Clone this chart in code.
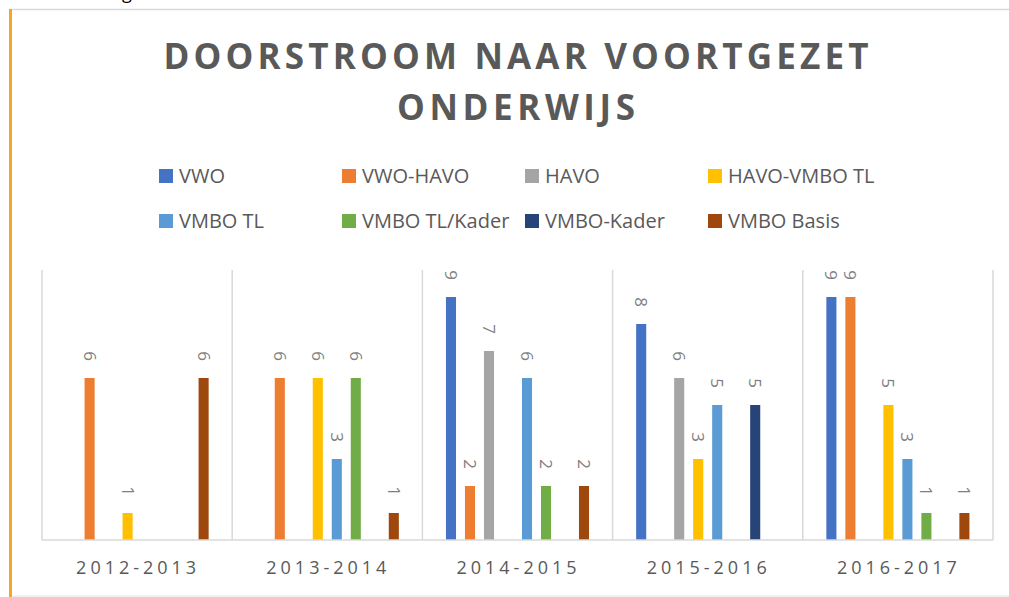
<!DOCTYPE html>
<html>
<head>
<meta charset="utf-8">
<script src="https://cdn.jsdelivr.net/npm/d3@7"></script>
<style>
	body { margin: 0; background: #fff; }
	#doorstroom-chart { width: 1009px; height: 597px; }
	text { font-family: "Open Sans", "Noto Sans", sans-serif; }
</style>
</head>
<body>
<div id="doorstroom-chart"></div>
<script>
const years = ["2012-2013", "2013-2014", "2014-2015", "2015-2016", "2016-2017"]
const seriesNames = ["VWO", "VWO-HAVO", "HAVO", "HAVO-VMBO TL", "VMBO TL", "VMBO TL/Kader", "VMBO-Kader", "VMBO Basis"]
const seriesColors = ["#4472C4", "#ED7D31", "#A5A5A5", "#FFC000", "#5B9BD5", "#70AD47", "#264478", "#9E480E"]

// one array per series, values per school year (null = no bar)
const vwo = [null, null, 9, 8, 9]
const vwoHavo = [6, 6, 2, null, 9]
const havo = [null, null, 7, 6, null]
const havoVmboTl = [1, 6, null, 3, 5]
const vmboTl = [null, 3, 6, 5, 3]
const vmboTlKader = [null, 6, 2, null, 1]
const vmboKader = [null, null, null, 5, null]
const vmboBasis = [6, 1, 2, null, 1]
const seriesValues = [vwo, vwoHavo, havo, havoVmboTl, vmboTl, vmboTlKader, vmboKader, vmboBasis]

const titleLines = ["DOORSTROOM NAAR VOORTGEZET", "ONDERWIJS"]

class DoorstroomChart {
	constructor(containerId) {
		this.containerId = containerId
		this.width = 1009
		this.height = 597
		this.plot = { left: 42, right: 993, top: 270, bottom: 540 }
		this.textColor = "#595959"
		this.gridColor = "#D9D9D9"
	}

	initialize() {
		this.createSvg()
		this.drawFrame()
		this.drawTitle()
		this.drawLegend()
		this.createScales()
		this.drawGrid()
		this.drawBars()
		this.drawAxis()
	}

	createSvg() {
		this.svg = d3
			.select(`#${this.containerId}`)
			.append("svg")
			.attr("width", this.width)
			.attr("height", this.height)
	}

	drawFrame() {
		// descender of the page text above the embedded chart
		this.svg
			.append("text")
			.attr("x", 122)
			.attr("y", -1)
			.style("font-size", "18px")
			.style("fill", "#000")
			.text("g")

		this.svg
			.append("line")
			.attr("x1", 9)
			.attr("x2", this.width)
			.attr("y1", 9.5)
			.attr("y2", 9.5)
			.style("stroke", "#D9D9D9")
			.style("stroke-width", 1.5)

		this.svg
			.append("line")
			.attr("x1", 9)
			.attr("x2", this.width)
			.attr("y1", 596)
			.attr("y2", 596)
			.style("stroke", "#E3E3E3")
			.style("stroke-width", 1)

		this.svg
			.append("line")
			.attr("x1", 10.5)
			.attr("x2", 10.5)
			.attr("y1", 9)
			.attr("y2", this.height)
			.style("stroke", "#F5A623")
			.style("stroke-width", 3)
	}

	drawTitle() {
		const widths = [705, 238]
		this.svg
			.append("g")
			.attr("class", "title")
			.selectAll("text")
			.data(titleLines)
			.join("text")
			.attr("x", 516)
			.attr("y", (d, i) => 69 + i * 51)
			.attr("text-anchor", "middle")
			.attr("textLength", (d, i) => widths[i])
			.attr("lengthAdjust", "spacing")
			.style("font-size", "35px")
			.style("font-weight", "700")
			.style("fill", this.textColor)
			.text((d) => d)
	}

	drawLegend() {
		const legend = this.svg.append("g").attr("class", "legend")
		const rows = legend
			.selectAll("g")
			.data(seriesNames)
			.join("g")
			.attr("transform", (d, i) => `translate(${159 + (i % 4) * 183},${169 + Math.floor(i / 4) * 45})`)

		rows
			.append("rect")
			.attr("width", 14)
			.attr("height", 14)
			.attr("fill", (d, i) => seriesColors[i])

		rows
			.append("text")
			.attr("x", 20)
			.attr("y", 14)
			.style("font-size", "20px")
			.style("fill", this.textColor)
			.text((d) => d)
	}

	createScales() {
		this.x0 = d3
			.scaleBand()
			.domain(years)
			.range([this.plot.left, this.plot.right])

		this.x1 = d3
			.scaleBand()
			.domain(seriesNames)
			.range([0, this.x0.bandwidth()])
			.paddingInner(0.47)
			.paddingOuter(1.24)

		this.y = d3
			.scaleLinear()
			.domain([0, 10])
			.range([this.plot.bottom, this.plot.top])
	}

	drawGrid() {
		const edges = years.map((d) => this.x0(d)).concat([this.plot.right])
		this.svg
			.append("g")
			.attr("class", "grid")
			.selectAll("line")
			.data(edges)
			.join("line")
			.attr("x1", (d) => d)
			.attr("x2", (d) => d)
			.attr("y1", this.plot.top)
			.attr("y2", this.plot.bottom)
			.style("stroke", this.gridColor)
			.style("stroke-width", 1.5)
	}

	drawBars() {
		const points = []
		years.forEach((year, yi) => {
			seriesNames.forEach((name, si) => {
				const v = seriesValues[si][yi]
				if (v !== null) points.push({ year, name, color: seriesColors[si], value: v })
			})
		})

		const bars = this.svg.append("g").attr("class", "bars")
		bars
			.selectAll("rect")
			.data(points)
			.join("rect")
			.attr("x", (d) => this.x0(d.year) + this.x1(d.name))
			.attr("y", (d) => this.y(d.value))
			.attr("width", this.x1.bandwidth())
			.attr("height", (d) => this.y(0) - this.y(d.value))
			.attr("fill", (d) => d.color)

		bars
			.selectAll("text")
			.data(points)
			.join("text")
			.attr("transform", (d) => {
				const cx = this.x0(d.year) + this.x1(d.name) + this.x1.bandwidth() / 2
				return `translate(${cx},${this.y(d.value) - 17}) rotate(90)`
			})
			.attr("text-anchor", "end")
			.attr("dy", "0.35em")
			.style("font-size", "17px")
			.style("fill", "#7F7F7F")
			.text((d) => d.value)
	}

	drawAxis() {
		this.svg
			.append("line")
			.attr("x1", this.plot.left)
			.attr("x2", this.plot.right)
			.attr("y1", this.plot.bottom)
			.attr("y2", this.plot.bottom)
			.style("stroke", this.gridColor)
			.style("stroke-width", 1.5)

		this.svg
			.append("g")
			.attr("class", "x-labels")
			.selectAll("text")
			.data(years)
			.join("text")
			.attr("x", (d) => this.x0(d) + this.x0.bandwidth() / 2 - 1)
			.attr("y", 574)
			.attr("text-anchor", "middle")
			.attr("textLength", 120)
			.attr("lengthAdjust", "spacing")
			.style("font-size", "18px")
			.style("fill", this.textColor)
			.text((d) => d)
	}
}

const chart = new DoorstroomChart("doorstroom-chart")
chart.initialize()
</script>
</body>
</html>
